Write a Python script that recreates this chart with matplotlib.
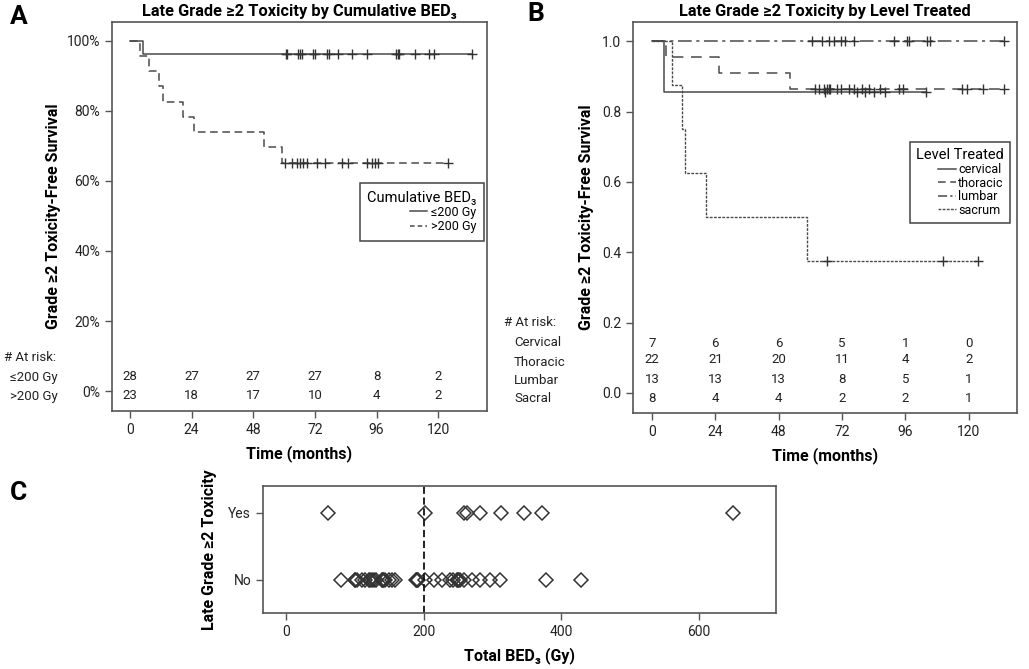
import numpy as np
import matplotlib
matplotlib.use("Agg")
import matplotlib.pyplot as plt
from matplotlib.lines import Line2D

plt.rcParams['font.family'] = ['Roboto', 'DejaVu Sans']

# ---- Panel A: Kaplan-Meier by cumulative BED3 ----
le200_times = [0, 5.2]
le200_surv = [100, 96.4]
le200_cens = [60.8, 61.3, 65.6, 66.3, 66.9, 71.2, 72.1, 76.6, 77.3, 80.8, 86.6,
              92.2, 103.6, 104.3, 104.9, 110.8, 116.6, 118.2, 133.2]
gt200_times = [0, 3.9, 7.4, 11.3, 12.9, 20.6, 24.9, 52.3, 59.1]
gt200_surv = [100, 95.7, 91.3, 87.0, 82.6, 78.3, 73.9, 69.6, 65.2]
gt200_cens = [60.4, 63.0, 64.9, 66.2, 67.5, 68.8, 72.7, 76.0, 82.5, 85.0,
              92.2, 94.1, 95.4, 96.7, 124.0]
risk_times = [0, 24, 48, 72, 96, 120]
risk_a_labels = ['\u2264200 Gy', '>200 Gy']
risk_a = [[28, 27, 27, 27, 8, 2],
          [23, 18, 17, 10, 4, 2]]

# ---- Panel B: Kaplan-Meier by level treated ----
cerv_times = [0, 4.4]
cerv_surv = [1.0, 0.857]
cerv_cens = [65.5, 77.7, 80.8, 84.0, 88.4, 104.0]
thor_times = [0, 5.3, 25.2, 52.1]
thor_surv = [1.0, 0.955, 0.909, 0.864]
thor_cens = [61.9, 63.1, 65.0, 66.3, 66.9, 67.5, 70.1, 71.5, 74.5, 76.4, 79.6,
             82.1, 86.5, 93.4, 95.0, 117.4, 119.3, 125.6, 133.5]
lumb_times = [0]
lumb_surv = [1.0]
lumb_cens = [60.6, 64.4, 66.9, 68.8, 71.5, 73.2, 76.4, 91.6, 96.5, 97.5,
             104.2, 105.5, 133.3]
sacr_times = [0, 7.6, 11.4, 12.6, 20.5, 58.7]
sacr_surv = [1.0, 0.875, 0.75, 0.625, 0.5, 0.375]
sacr_cens = [66.3, 110.3, 123.5]
risk_b_labels = ['Cervical', 'Thoracic', 'Lumbar', 'Sacral']
risk_b = [[7, 6, 6, 5, 1, 0],
          [22, 21, 20, 11, 4, 2],
          [13, 13, 13, 8, 5, 1],
          [8, 4, 4, 2, 2, 1]]

# ---- Panel C: BED3 vs toxicity ----
bed_yes = [61, 201, 259, 262, 281, 312, 345, 371, 650]
bed_no = [79, 100, 100, 102, 110, 115, 120, 122, 125, 127, 130, 139, 141, 141,
          144, 149, 154, 158, 188, 190, 190, 192, 201, 215, 226, 238, 243, 248,
          250, 250, 253, 258, 270, 282, 296, 311, 377, 428]

GRAY = '#4a4a4a'
TXT = '#222222'
W, H = 1029, 669
FS_TICK = 10
FS_RISK = 9.5
FS_LAB = 11.5
FS_TITLE = 11.8


def px_axes(fig, l, t, r, b):
    return fig.add_axes([l / W, 1 - b / H, (r - l) / W, (b - t) / H])


def style_axes(ax):
    for s in ax.spines.values():
        s.set_color('#555555')
        s.set_linewidth(1.2)
    ax.tick_params(axis='both', direction='out', length=5, width=1,
                   color='#555555', labelsize=FS_TICK, labelcolor=TXT,
                   top=False, right=False)


def km(ax, times, surv, cens, ls, lw=1.1):
    times = np.asarray(times, float)
    surv = np.asarray(surv, float)
    end = max(cens) if cens else times[-1]
    xs = np.append(times, end)
    ys = np.append(surv, surv[-1])
    ax.step(xs, ys, where='post', color=GRAY, lw=lw, ls=ls)
    idx = np.searchsorted(times, cens, side='right') - 1
    ax.plot(cens, surv[idx], '+', color='#333333', ms=7, mew=1.0,
            ls='none')


fig = plt.figure(figsize=(W / 100, H / 100), dpi=100)

# ================= Panel A =================
axA = px_axes(fig, 112, 22, 487, 411)
style_axes(axA)
km(axA, le200_times, le200_surv, le200_cens, '-')
km(axA, gt200_times, gt200_surv, gt200_cens, (0, (5, 3)))
axA.set_xlim(-7, 139)
axA.set_ylim(-5.7, 105.4)
axA.set_xticks(risk_times)
axA.set_yticks([0, 20, 40, 60, 80, 100])
axA.set_yticklabels(['%d%%' % v for v in [0, 20, 40, 60, 80, 100]])
axA.set_xlabel('Time (months)', fontsize=FS_LAB, fontweight='bold', labelpad=6)
axA.set_ylabel('Grade \u22652 Toxicity-Free Survival', fontsize=FS_LAB,
               fontweight='bold', labelpad=4)
axA.set_title('Late Grade \u22652 Toxicity by Cumulative BED\u2083',
              fontsize=FS_TITLE, fontweight='bold', pad=4)
hA = [Line2D([], [], color=GRAY, lw=1.1, ls='-'),
      Line2D([], [], color=GRAY, lw=1.1, ls=(0, (3, 2)))]
legA = axA.legend(hA, ['\u2264200 Gy', '>200 Gy'], title='Cumulative BED\u2083',
                  loc='upper right', bbox_to_anchor=(0.992, 0.586),
                  fancybox=False, edgecolor='#444444', framealpha=1,
                  fontsize=9, title_fontsize=10.5, handlelength=1.4,
                  handletextpad=0.3, labelspacing=0.1, borderpad=0.6,
                  borderaxespad=0)
legA.get_frame().set_linewidth(1.1)
legA._legend_box.align = 'right'
for row, (lab, vals) in enumerate(zip(risk_a_labels, risk_a)):
    yv = [4.1, -1.3][row]
    for t, v in zip(risk_times, vals):
        axA.text(t, yv, str(v), ha='center', va='center', fontsize=FS_RISK,
                 color=TXT)
    fig.text(58 / W, 1 - [377, 396][row] / H, lab, ha='right', va='center',
             fontsize=FS_RISK, color=TXT)
fig.text(4 / W, 1 - 358 / H, '# At risk:', ha='left', va='center',
         fontsize=FS_RISK, color=TXT)
fig.text(10 / W, 1 - 17 / H, 'A', fontsize=19, fontweight='bold',
         ha='left', va='center')

# ================= Panel B =================
axB = px_axes(fig, 633, 22, 1017, 413)
style_axes(axB)
km(axB, cerv_times, cerv_surv, cerv_cens, '-')
km(axB, thor_times, thor_surv, thor_cens, (0, (7, 5)))
km(axB, lumb_times, lumb_surv, lumb_cens, (0, (9, 3, 2, 3)))
km(axB, sacr_times, sacr_surv, sacr_cens, (0, (2, 1)), lw=1.0)
axB.set_xlim(-7.2, 138.3)
axB.set_ylim(-0.057, 1.055)
axB.set_xticks(risk_times)
axB.set_yticks([0, 0.2, 0.4, 0.6, 0.8, 1.0])
axB.set_yticklabels(['%.1f' % v for v in [0, 0.2, 0.4, 0.6, 0.8, 1.0]])
axB.set_xlabel('Time (months)', fontsize=FS_LAB, fontweight='bold', labelpad=6)
axB.set_ylabel('Grade \u22652 Toxicity-Free Survival', fontsize=FS_LAB,
               fontweight='bold', labelpad=6)
axB.set_title('Late Grade \u22652 Toxicity by Level Treated',
              fontsize=FS_TITLE, fontweight='bold', pad=4)
hB = [Line2D([], [], color=GRAY, lw=1.1, ls='-'),
      Line2D([], [], color=GRAY, lw=1.1, ls=(0, (5, 3))),
      Line2D([], [], color=GRAY, lw=1.1, ls=(0, (6, 2, 1.5, 2))),
      Line2D([], [], color=GRAY, lw=1.0, ls=(0, (2, 1)))]
legB = axB.legend(hB, ['cervical', 'thoracic', 'lumbar', 'sacrum'],
                  title='Level Treated', loc='upper right',
                  bbox_to_anchor=(0.982, 0.693), fancybox=False,
                  edgecolor='#444444', framealpha=1, fontsize=9,
                  title_fontsize=10.5, handlelength=1.4, handletextpad=0.2,
                  labelspacing=0.05, borderpad=0.5, borderaxespad=0)
legB.get_frame().set_linewidth(1.1)
legB._legend_box.align = 'right'
for row, (lab, vals) in enumerate(zip(risk_b_labels, risk_b)):
    yv = [0.142, 0.094, 0.038, -0.016][row]
    for t, v in zip(risk_times, vals):
        axB.text(t, yv, str(v), ha='center', va='center', fontsize=FS_RISK,
                 color=TXT)
    fig.text(514 / W, 1 - [343, 362, 380, 399][row] / H, lab, ha='left',
             va='center', fontsize=FS_RISK, color=TXT)
fig.text(504 / W, 1 - 323 / H, '# At risk:', ha='left', va='center',
         fontsize=FS_RISK, color=TXT)
fig.text(527 / W, 1 - 14 / H, 'B', fontsize=19, fontweight='bold',
         ha='left', va='center')

# ================= Panel C =================
axC = px_axes(fig, 263, 486, 776, 613)
style_axes(axC)
axC.plot(bed_yes, np.ones(len(bed_yes)), 'D', mfc='none', mec='#333333',
         mew=1.1, ms=7, ls='none')
axC.plot(bed_no, np.zeros(len(bed_no)), 'D', mfc='none', mec='#333333',
         mew=1.1, ms=7, ls='none')
axC.axvline(200, color='#111111', lw=1.3, ls=(0, (4, 2)))
axC.set_xlim(-34, 712)
axC.set_ylim(-0.5, 1.4)
axC.set_xticks([0, 200, 400, 600])
axC.set_yticks([0, 1])
axC.set_yticklabels(['No', 'Yes'])
axC.set_xlabel('Total BED\u2083 (Gy)', fontsize=FS_LAB, fontweight='bold',
               labelpad=6)
axC.set_ylabel('Late Grade \u22652 Toxicity', fontsize=FS_LAB,
               fontweight='bold', labelpad=8)
fig.text(10 / W, 1 - 493 / H, 'C', fontsize=19, fontweight='bold',
         ha='left', va='center')

fig.savefig('out.png', dpi=100, facecolor='white')
